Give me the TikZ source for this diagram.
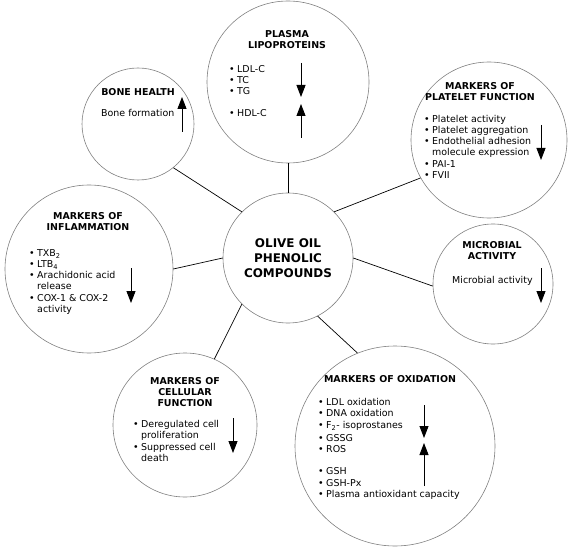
\documentclass[tikz,border=0pt]{standalone}
\usepackage{fontspec}
\setmainfont{DejaVu Sans}
\usetikzlibrary{arrows.meta}
\newcommand{\itm}{\makebox[8bp][l]{\textbullet}}
\newcommand{\cnt}{\hspace*{8bp}}

\begin{document}
\begin{tikzpicture}[x=1bp,y=-1bp,
  bubble/.style={circle,draw=black!50,line width=0.6bp,inner sep=0pt},
  head/.style={font=\fontsize{9.5}{11}\selectfont\bfseries,align=center,anchor=base,inner sep=0pt},
  body/.style={font=\fontsize{9.5}{11.3}\selectfont,align=left,anchor=base west,inner sep=0pt},
  trend/.style={-{Triangle[width=9bp,length=12bp]},line width=0.9bp}]
\useasboundingbox (0,0) rectangle (570,558);

% the circles
\node[bubble,minimum size=130bp] (olive) at (288,258) {};
\node[bubble,minimum size=162bp] (plasma) at (288,82) {};
\node[bubble,minimum size=156bp] (platelet) at (489,140) {};
\node[bubble,minimum size=120bp] (microbial) at (493,284) {};
\node[bubble,minimum size=168bp] (inflam) at (89,269) {};
\node[bubble,minimum size=200bp] (oxidation) at (395,446) {};
\node[bubble,minimum size=144bp] (cellular) at (185,425) {};
\node[bubble,minimum size=112bp] (bone) at (138,124) {};

\foreach \a/\b/\c in {135/bone/309,90/plasma/270,45/platelet/209,0/microbial/182,
  180/inflam/0,225/cellular/66,297/oxidation/112}
{
\draw[line width=0.7bp] (olive.\a) -- (\b.\c);
}

% centre (texts sit on the baseline of their last line)
\node[head,font=\fontsize{12}{15}\selectfont\bfseries] (oliveT) at (288,277.5) {OLIVE OIL\\PHENOLIC\\COMPOUNDS};

% plasma lipoproteins
\node[head] (plasmaT) at (287,48.5) {PLASMA\\LIPOPROTEINS};
\node[body] (plasmaL) at (229,116.5) {\itm LDL-C\\\itm TC\\\itm TG\\[10.5bp]\itm HDL-C};
\draw[trend] (301,63) -- (301,97);
\draw[trend] (301,138) -- (301,104);

% platelet function
\node[head] (plateletT) at (480,100.5) {MARKERS OF\\PLATELET FUNCTION};
\node[body] (plateletL) at (424,178.5) {\itm Platelet activity\\\itm Platelet aggregation\\
  \itm Endothelial adhesion\\\cnt molecule expression\\\itm PAI-1\\\itm FVII};
\draw[trend] (541,125) -- (541,160);

% microbial activity
\node[head] (microbialT) at (492,259.5) {MICROBIAL\\ACTIVITY};
\node[body] (microbialL) at (452,283.5) {Microbial activity};
\draw[trend] (541,268) -- (541,303);

% inflammation
\node[head] (inflamT) at (88,230.5) {MARKERS OF\\INFLAMMATION};
\node[body] (inflamL) at (29,312.5) {\itm TXB\textsubscript{2}\\\itm LTB\textsubscript{4}\\
  \itm Arachidonic acid\\\cnt release\\\itm COX-1 \& COX-2\\\cnt activity};
\draw[trend] (131,268) -- (131,303);

% oxidation
\node[head] (oxidationT) at (390,382.5) {MARKERS OF OXIDATION};
\node[body] (oxidationL) at (318,497.5) {\itm LDL oxidation\\\itm DNA oxidation\\
  \itm F\textsubscript{2}- isoprostanes\\[2bp]\itm GSSG\\\itm ROS\\[11bp]
  \itm GSH\\\itm GSH-Px\\\itm Plasma antioxidant capacity};
\draw[trend] (424,405) -- (424,438);
\draw[trend] (424,486) -- (424,443);

% cellular function
\node[head] (cellularT) at (185,406.5) {MARKERS OF\\CELLULAR\\FUNCTION};
\node[body] (cellularL) at (133,461.5) {\itm Deregulated cell\\\cnt proliferation\\
  \itm Suppressed cell\\\cnt death};
\draw[trend] (233,418) -- (233,453);

% bone health
\node[head] (boneT) at (138,95.5) {BONE HEALTH};
\node[body] (boneL) at (101,116.5) {Bone formation};
\draw[trend] (182,132) -- (182,97);
\end{tikzpicture}
\end{document}
